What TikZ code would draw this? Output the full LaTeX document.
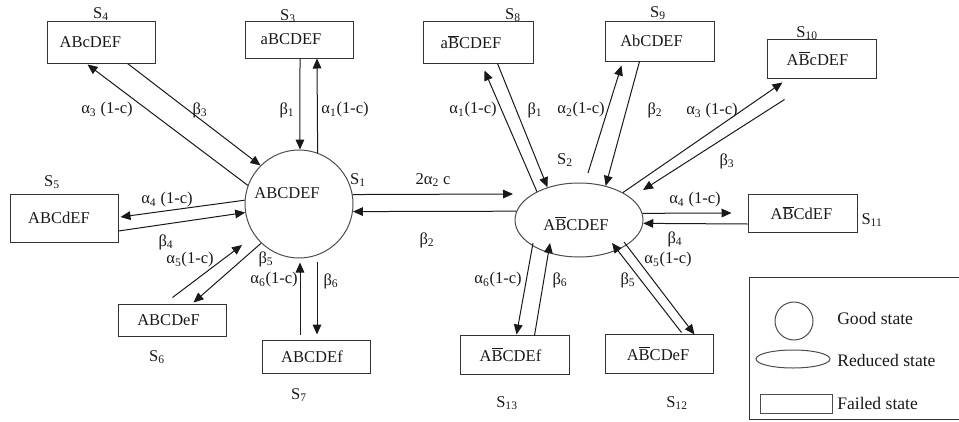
\documentclass[tikz,border=0pt]{standalone}
\usepackage{fontspec}
\setmainfont{Liberation Serif}
\usetikzlibrary{arrows.meta,shapes.geometric,calc}
\newcommand{\Bb}{$\overline{\mbox{B}}$}
\newcommand{\al}[1]{α\textsubscript{#1}}
\newcommand{\be}[1]{β\textsubscript{#1}}
\newcommand{\Sx}[1]{S\textsubscript{#1}}
\newcommand{\tx}[2]{\hspace*{0pt}#2\hspace*{#1}}
\begin{document}
\begin{tikzpicture}[x=0.75pt,y=-0.75pt,
  every node/.style={font=\fontsize{12.4}{14}\selectfont, inner sep=0pt, text=black!90},
  stbox/.style={draw=black!80, line width=0.75pt, minimum width=81pt},
  arr/.style={draw=black!90, line width=0.75pt, -{Triangle[length=7.5pt,width=6.5pt]}},
  shp/.style={draw=black!70, line width=0.75pt},
  legtxt/.style={anchor=west, font=\fontsize{13.2}{15}\selectfont}]
\useasboundingbox (0,0) rectangle (959,421);
% states
\node[shp, circle, minimum size=81pt, label={[xshift=-9pt,yshift=8.25pt]center:ABCDEF}] (s1) at (299,204) {};
\node[shp, ellipse, minimum width=96pt, minimum height=55.5pt, label={[xshift=-2.25pt,yshift=-2.5pt]center:A\Bb CDEF}] (s2) at (579,220) {};
\node[stbox, minimum height=27.75pt] (s3) at (299,39.5) {\tx{12pt}{aBCDEF}};
\node[stbox, minimum height=31.5pt] (s4) at (101,42) {\tx{16pt}{ABcDEF}};
\node[stbox, minimum height=36pt] (s5) at (64,218) {\tx{7.5pt}{ABCdEF}};
\node[stbox, minimum height=24pt] (s6) at (172.5,320) {\tx{6pt}{ABCDeF}};
\node[stbox, minimum height=24.75pt] (s7) at (316,356.5) {\tx{6pt}{ABCDEf}};
\node[stbox, minimum height=31.5pt, minimum width=82.5pt] (s8) at (478,42) {\tx{10.5pt}{a\Bb CDEF}};
\node[stbox, minimum height=30pt, minimum width=81.75pt] (s9) at (659.5,41) {\tx{12pt}{AbCDEF}};
\node[stbox, minimum height=29.25pt, minimum width=81.75pt] (s10) at (821.5,58.5) {\tx{6pt}{A\Bb cDEF}};
\node[stbox, minimum height=28.5pt, minimum width=81.75pt] (s11) at (802.5,213) {\tx{1.5pt}{A\Bb CdEF}};
\node[stbox, minimum height=29.25pt] (s12) at (659,353.5) {\tx{1.5pt}{A\Bb CDeF}};
\node[stbox, minimum height=29.25pt, minimum width=81.75pt] (s13) at (514.5,354.5) {\tx{6pt}{A\Bb CDEf}};
% state names
\node (n1) at (358,180) {\Sx{1}};
\node (n2) at (565,160) {\Sx{2}};
\node (n3) at (288,16) {\Sx{3}};
\node (n4) at (101,14) {\Sx{4}};
\node (n5) at (52,182) {\Sx{5}};
\node (n6) at (157,357) {\Sx{6}};
\node (n7) at (299,395) {\Sx{7}};
\node (n8) at (513,15) {\Sx{8}};
\node (n9) at (658,13) {\Sx{9}};
\node (n10) at (807,33) {\Sx{10}};
\node (n11) at (872,220) {\Sx{11}};
\node (n12) at (677,403) {\Sx{12}};
\node (n13) at (507,403) {\Sx{13}};
% connectors around S1
\draw[arr] (s1.160) -- ($(s4.south west)+(41,1)$);
\draw[arr] ($(s4.south west)+(81,0)$) -- (s1.135);
\draw[arr] ($(s3.south)+(1,0)$) -- (s1.89);
\draw[arr] (s1.70.5) -- ($(s3.south)+(18,0)$);
\draw[arr] (s1.176) -- ($(s5.east)+(2,-1)$);
\draw[arr] ($(s5.east)+(0,13)$) -- (s1.189.5);
\draw[arr] ($(s6.north)+(0,-6)$) -- ($(s1.center)+(-57,41)$);
\draw[arr] (s1.226) -- ($(s6.north)+(21,-1)$);
\draw[arr] ($(s7.north)+(-16,-5)$) -- ($(s1.south)+(1,4)$);
\draw[arr] ($(s1.center)+(18,58)$) -- ($(s7.north)+(1,-5)$);
% S1 - S2
\draw[arr] (s1.10) -- ($(s2.center)+(-66,-26)$);
\draw[arr] (s2.172.8) -- (s1.-8.5);
% connectors around S2
\draw[arr] (s2.146.3) -- ($(s8.south west)+(62,7)$);
\draw[arr] ($(s8.south west)+(75,0)$) -- (s2.134);
\draw[arr] ($(s2.center)+(9,-47)$) -- ($(s9.south west)+(17,4)$);
\draw[arr] ($(s9.south west)+(35,0)$) -- (s2.52);
\draw[arr] (s2.32.5) -- ($(s10.south west)+(16,4)$);
\draw[arr] ($(s10.south west)+(18,21)$) -- ($(s2.center)+(64,-30)$);
\draw[arr] (s2.6) -- ($(s11.west)+(-16,0)$);
\draw[arr] ($(s11.west)+(0,11)$) -- (s2.-3.6);
\draw[arr] ($(s12.north west)+(77,-1)$) -- ($(s2.center)+(33,23)$);
\draw[arr] ($(s2.center)+(45,22)$) -- ($(s12.north west)+(90,1)$);
\draw[arr] ($(s2.center)+(-46,23)$) -- ($(s13.north west)+(57,0)$);
\draw[arr] ($(s13.north west)+(75,1)$) -- ($(s2.center)+(-29,23)$);
% rate labels
\node (r1) at (107,110) {\al{3} (1-c)};
\node (r2) at (200,110) {\be{3}};
\node (r3) at (287,110) {\be{1}};
\node (r4) at (345,110) {\al{1}(1-c)};
\node (r5) at (167,200) {\al{4} (1-c)};
\node (r6) at (166,242) {\be{4}};
\node (r7) at (190,260) {\al{5}(1-c)};
\node (r8) at (266,259) {\be{5}};
\node (r9) at (274,280) {\al{6}(1-c)};
\node (r10) at (331,281) {\be{6}};
\node (r11) at (433,180) {2\al{2} c};
\node (r12) at (427,240) {\be{2}};
\node (r13) at (473,110) {\al{1}(1-c)};
\node (r14) at (535,110) {\be{1}};
\node (r15) at (581,110) {\al{2}(1-c)};
\node (r16) at (655,110) {\be{2}};
\node (r17) at (712,111) {\al{3} (1-c)};
\node (r18) at (727,161) {\be{3}};
\node (r19) at (695,200) {\al{4} (1-c)};
\node (r20) at (675,239) {\be{4}};
\node (r21) at (668,260) {\al{5}(1-c)};
\node (r22) at (628,280) {\be{5}};
\node (r23) at (498,280) {\al{6}(1-c)};
\node (r24) at (560,280) {\be{6}};
% legend
\draw[black!80, line width=0.75pt] (959,277) -- (749,277) -- (749,419) -- (959,419);
\node[shp, circle, minimum size=28.5pt] (lg1) at (794,321) {};
\node[shp, ellipse, minimum width=55.5pt, minimum height=13.5pt] (lg2) at (793,359) {};
\node[shp, rectangle, minimum width=54pt, minimum height=14.25pt] (lg3) at (796,403.5) {};
\node[legtxt] (lt1) at (837,318) {Good state};
\node[legtxt] (lt2) at (837,360) {Reduced state};
\node[legtxt] (lt3) at (837,403) {Failed state};
\end{tikzpicture}
\end{document}
